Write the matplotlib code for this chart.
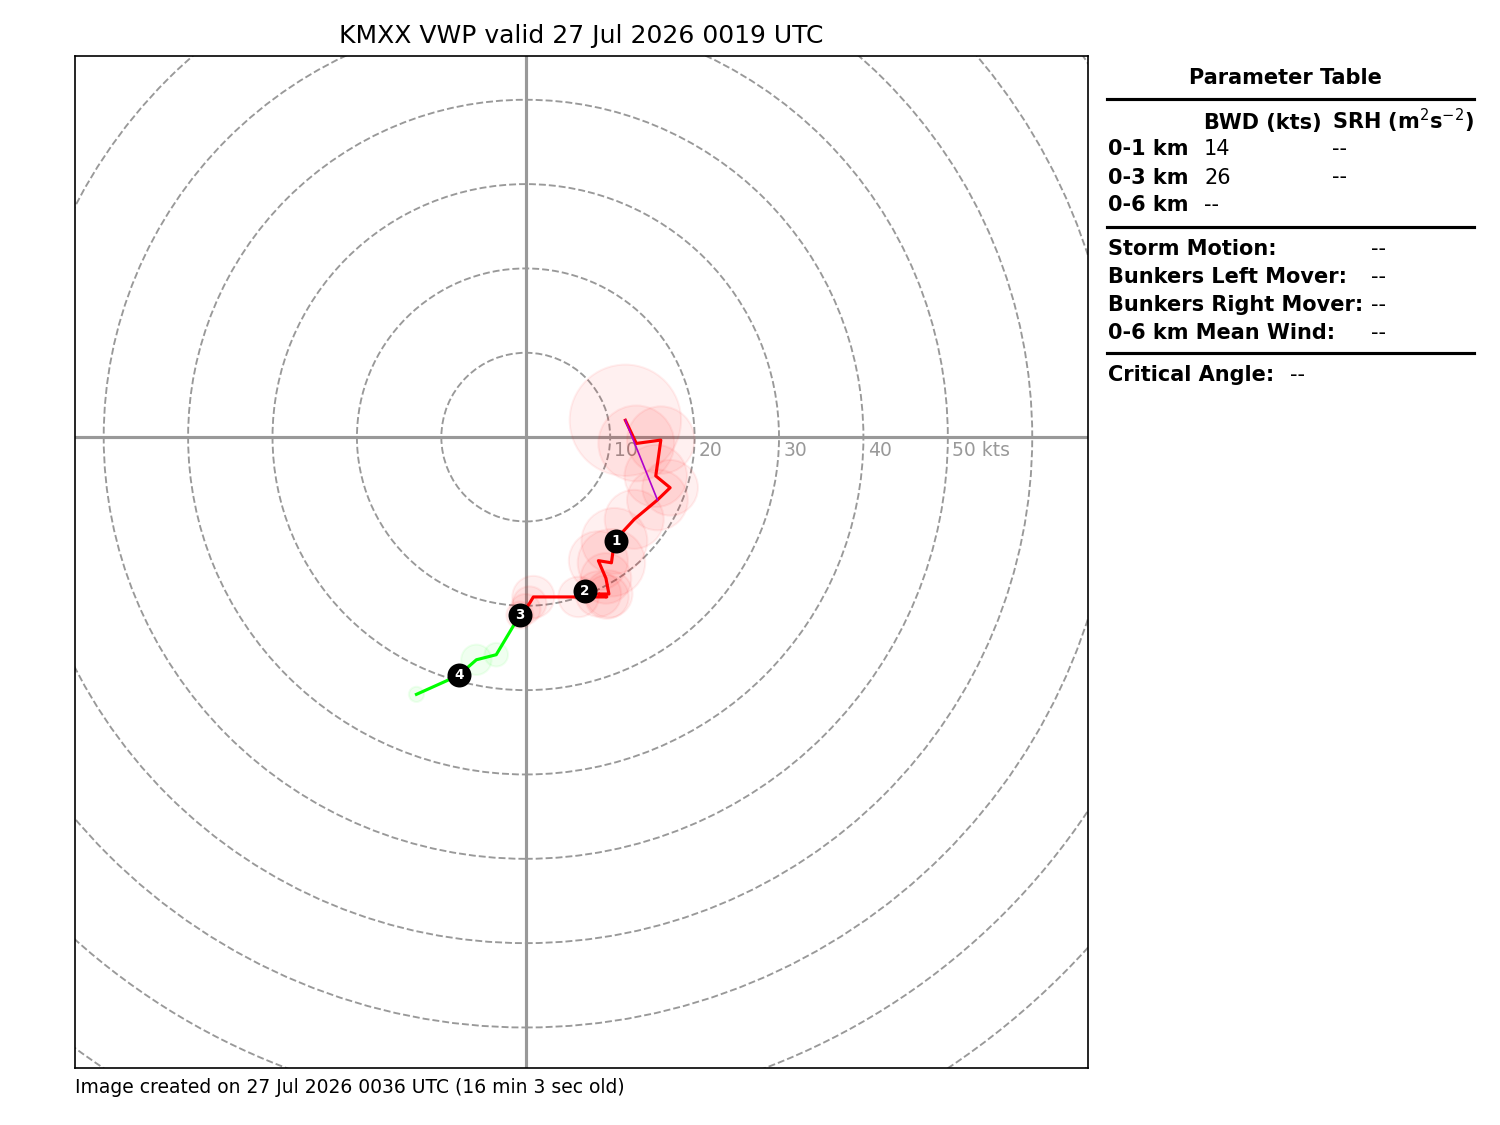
import matplotlib
matplotlib.use('Agg')
import matplotlib.pyplot as plt
from matplotlib.patches import Circle

# hodograph data (kts)
red_u = [11.8, 13.1, 16.0, 15.4, 17.1, 15.6, 12.85, 10.5, 10.15, 8.6, 9.5, 9.85, 8.6, 9.6, 6.25, 0.9, 0.45, -0.05, -0.7]
red_v = [2.0, -0.75, -0.35, -4.6, -6.0, -7.45, -9.75, -12.3, -14.9, -14.65, -16.75, -18.6, -18.6, -18.95, -18.95, -18.95, -19.7, -20.4, -21.1]
red_rms = [6.6, 4.5, 4.0, 3.7, 3.3, 3.6, 3.5, 3.9, 4.0, 3.5, 3.0, 2.8, 2.7, 2.6, 2.4, 2.5, 2.0, 1.8, 1.6]

green_u = [-0.7, -3.5, -5.85, -7.95, -12.95]
green_v = [-21.1, -25.8, -26.4, -28.25, -30.5]
green_rms = [1.0, 1.4, 1.8, 1.2, 0.9]

# 0-0.5 km shear vector (magenta)
shear_u = [11.8, 15.6]
shear_v = [2.0, -7.45]

# height markers (km)
km_labels = ['1', '2', '3', '4']
km_u = [10.7, 7.0, -0.7, -7.95]
km_v = [-12.3, -18.3, -21.1, -28.25]

rings = list(range(10, 130, 10))
ring_labels = [10, 20, 30, 40, 50]

title = 'KMXX VWP valid 27 Jul 2026 0019 UTC'
footer = 'Image created on 27 Jul 2026 0036 UTC (16 min 3 sec old)'

fig = plt.figure(figsize=(10, 7.5), dpi=150)
ax = fig.add_axes([0.05, 0.0507, 0.6753, 0.8996])

for r in rings:
    ax.add_patch(Circle((0, 0), r, fill=False, ls='--', color='#999999', lw=0.9, zorder=1))
for r in ring_labels:
    lbl = '%d kts' % r if r == ring_labels[-1] else '%d' % r
    ax.text(r + 0.5, -0.5, lbl, ha='left', va='top', fontsize=9, color='#999999', clip_on=True)

ax.axhline(0, color='#999999', lw=1.5, zorder=2)
ax.axvline(0, color='#999999', lw=1.5, zorder=2)

for cu, cv, rad in zip(red_u, red_v, red_rms):
    ax.add_patch(Circle((cu, cv), rad, color='r', alpha=0.06, zorder=3))
for cu, cv, rad in zip(green_u, green_v, green_rms):
    ax.add_patch(Circle((cu, cv), rad, color='#00ff00', alpha=0.06, zorder=3))

ax.plot(red_u, red_v, color='r', lw=1.5, zorder=4)
ax.plot(green_u, green_v, color='#00ff00', lw=1.5, zorder=4)
ax.plot(shear_u, shear_v, color='#b000cc', lw=0.8, zorder=5)

ax.plot(km_u, km_v, 'ko', ms=10.5, zorder=6)
for t, ku, kv in zip(km_labels, km_u, km_v):
    ax.text(ku, kv, t, ha='center', va='center', color='w', fontsize=6.5, fontweight='bold', zorder=7)

ax.set_xlim(-53.4, 66.6)
ax.set_ylim(-74.8, 45.2)
ax.set_xticks([])
ax.set_yticks([])
ax.set_title(title, fontsize=12)

fig.text(0.05, 1 - 1093 / 1125., footer, fontsize=9, va='baseline')

# parameter table
def fy(py):
    return 1 - py / 1125.

def fx(px):
    return px / 1500.

fs = 10
fig.text(fx(1285), fy(84.5), 'Parameter Table', ha='center', va='baseline', fontsize=fs, fontweight='bold')
for py in [98.5, 226.5, 352.5]:
    fig.add_artist(plt.Line2D([fx(1107), fx(1474)], [fy(py), fy(py)], color='k', lw=1.5))

fig.text(fx(1204), fy(129), 'BWD (kts)', va='baseline', fontsize=fs, fontweight='bold')
fig.text(fx(1332), fy(129), 'SRH (m$^2$s$^{-2}$)', va='baseline', fontsize=fs, fontweight='bold')

layers = ['0-1 km', '0-3 km', '0-6 km']
bwd = ['14', '26', '--']
srh = ['--', '--', '']
layer_y = [155, 183.5, 211.5]
for lay, b, s, py in zip(layers, bwd, srh, layer_y):
    fig.text(fx(1108), fy(py), lay, va='baseline', fontsize=fs, fontweight='bold')
    fig.text(fx(1204), fy(py), b, va='baseline', fontsize=fs)
    fig.text(fx(1332), fy(py), s, va='baseline', fontsize=fs)

motions = ['Storm Motion:', 'Bunkers Left Mover:', 'Bunkers Right Mover:', '0-6 km Mean Wind:']
motion_vals = ['--', '--', '--', '--']
motion_y = [255, 283, 311, 339.5]
for m, val, py in zip(motions, motion_vals, motion_y):
    fig.text(fx(1108), fy(py), m, va='baseline', fontsize=fs, fontweight='bold')
    fig.text(fx(1371), fy(py), val, va='baseline', fontsize=fs)

fig.text(fx(1108), fy(381), 'Critical Angle:', va='baseline', fontsize=fs, fontweight='bold')
fig.text(fx(1290), fy(381), '--', va='baseline', fontsize=fs)

fig.savefig('out.png', dpi=150)
